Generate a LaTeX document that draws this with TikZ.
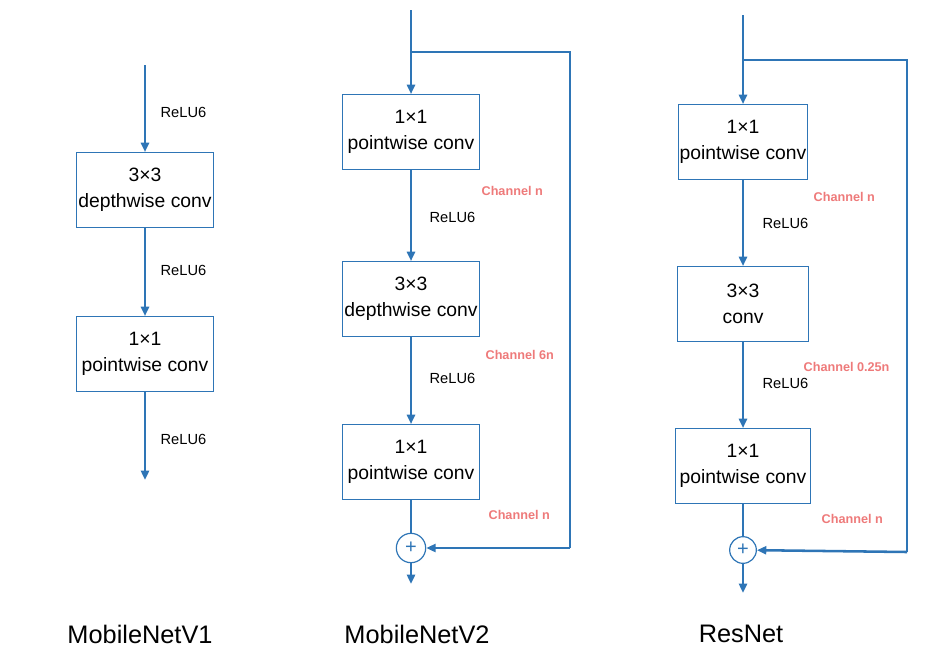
\documentclass[tikz,border=0pt]{standalone}
\usepackage{fontspec}
\setmainfont{Liberation Sans}
\usetikzlibrary{positioning,calc,arrows.meta}

\definecolor{lineblue}{RGB}{46,117,182}
\definecolor{chred}{RGB}{238,122,122}

\begin{document}
\begin{tikzpicture}[x=0.75pt, y=-0.75pt]
	\useasboundingbox (0,0) rectangle (944,657);
	\begin{scope}
		\tikzstyle{every node}=[align=center, inner sep=0.1em]
		\tikzstyle{layer}=[draw=lineblue, line width=0.9pt, minimum height=56pt, font=\fontsize{14.5}{19.5}\selectfont]
		\tikzstyle{addop}=[draw=lineblue, line width=0.9pt, circle, inner sep=0pt, text=lineblue, font=\fontsize{15}{15}\selectfont]
		\tikzstyle{act}=[anchor=west, font=\fontsize{11}{12}\selectfont]
		\tikzstyle{chn}=[anchor=west, text=chred, font=\fontsize{9.5}{10}\selectfont\bfseries]
		\tikzstyle{title}=[font=\fontsize{19}{22}\selectfont]
		\tikzstyle{flow}=[draw=lineblue, line width=1.9pt, -{Triangle[length=7pt, width=6pt]}]
		\tikzstyle{wire}=[draw=lineblue, line width=1.9pt]

		% MobileNetV1
		\coordinate (v1in)  at (145, 65);
		\node[layer, minimum width=103pt] (v1dw) at (145, 190) {3×3\\depthwise conv};
		\node[layer, minimum width=103pt] (v1pw) at (145, 354) {1×1\\pointwise conv};
		\coordinate (v1out) at (145, 480);

		\node[act] at (159, 112) {ReLU6};
		\node[act] at (159, 270) {ReLU6};
		\node[act] at (159, 439) {ReLU6};

		\draw [flow] (v1in) to (v1dw);
		\draw [flow] (v1dw) to (v1pw);
		\draw [flow] (v1pw) to (v1out);

		% MobileNetV2
		\coordinate (v2in)  at (411, 10);
		\coordinate (v2sp)  at (411, 52);
		\node[layer, minimum width=103pt] (v2ex) at (411, 132) {1×1\\pointwise conv};
		\node[layer, minimum width=103pt] (v2dw) at (411, 299) {3×3\\depthwise conv};
		\node[layer, minimum width=103pt] (v2pw) at (411, 462) {1×1\\pointwise conv};
		\node[addop, minimum size=22pt] (v2add) at (411, 548) {+};
		\coordinate (v2rt)  at (570, 548);
		\coordinate (v2out) at (411, 584);

		\node[chn] at (480, 191) {Channel n};
		\node[act] at (428, 217) {ReLU6};
		\node[chn] at (484, 355) {Channel 6n};
		\node[act] at (428, 378) {ReLU6};
		\node[chn] at (487, 515) {Channel n};

		\draw [flow] (v2in) to (v2ex);
		\draw [flow] (v2ex) to (v2dw);
		\draw [flow] (v2dw) to (v2pw);
		\draw [wire] (v2pw) to (v2add);
		\draw [flow] (v2add) to (v2out);
		\draw [wire] (v2sp) -| (v2rt);
		\draw [flow] (v2rt) to (v2add);

		% ResNet
		\coordinate (rnin)  at (743, 15);
		\coordinate (rnsp)  at (743, 60);
		\node[layer, minimum width=97pt]  (rnre) at (743, 142) {1×1\\pointwise conv};
		\node[layer, minimum width=98pt]  (rncv) at (743, 304) {3×3\\conv};
		\node[layer, minimum width=101pt] (rnpw) at (743, 466) {1×1\\pointwise conv};
		\node[addop, minimum size=20pt] (rnadd) at (743, 550) {+};
		\coordinate (rnrt)  at (907, 552);
		\coordinate (rnout) at (743, 593);

		\node[chn] at (812, 197) {Channel n};
		\node[act] at (761, 223) {ReLU6};
		\node[chn] at (802, 367) {Channel 0.25n};
		\node[act] at (761, 383) {ReLU6};
		\node[chn] at (820, 519) {Channel n};

		\draw [flow] (rnin) to (rnre);
		\draw [flow] (rnre) to (rncv);
		\draw [flow] (rncv) to (rnpw);
		\draw [wire] (rnpw) to (rnadd);
		\draw [flow] (rnadd) to (rnout);
		\draw [wire] (rnsp) -| (rnrt);
		\draw [flow] (rnrt) to (rnadd);

		% titles
		\node[title] (t1) at (140, 634) {MobileNetV1};
		\node[title] (t2) at (417, 634) {MobileNetV2};
		\node[title] (t3) at (741, 634) {ResNet};
	\end{scope}
\end{tikzpicture}
\end{document}
